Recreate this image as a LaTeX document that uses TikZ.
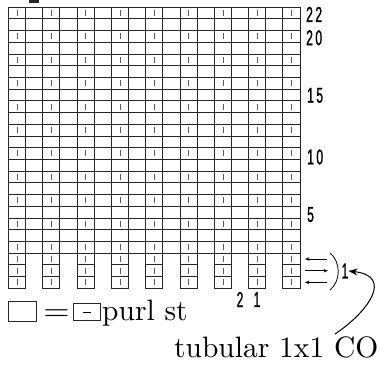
\documentclass[tikz,border=0pt]{standalone}
\usepackage{fontspec}
\newfontfamily\numfont[FakeStretch=0.56,FakeBold=1.2]{Liberation Sans}
\newfontfamily\lmten{lmroman10-regular.otf}
\usetikzlibrary{arrows.meta,calc}
\begin{document}
\begin{tikzpicture}[x=1pt,y=-1pt,
  gl/.style={line width=0.75pt, black!85},
  mk/.style={line width=0.6pt, black!65},
  num/.style={font=\numfont\fontsize{21.5}{20}\selectfont, inner sep=0pt},
  big/.style={font=\lmten\fontsize{29.5}{30}\selectfont, inner sep=0pt},
  arr/.style={line width=0.7pt, -{Stealth[length=4.5pt,width=3.5pt]}}]
\useasboundingbox (0,0) rectangle (380,366);
% small dark bar at the top edge
\fill[black!85] (29,0) rectangle (38.5,3);
% main grid: 17 columns, 21 rows (rows 2..22)
\foreach \k in {0,...,17}{
  \draw[gl] ({8.3+\k*17.16},7) -- ({8.3+\k*17.16},253.1);
}
\foreach \j in {0,...,21}{
  \draw[gl] (8.3,{7+\j*11.72}) -- (300,{7+\j*11.72});
}
% tubular rows (row 1): odd columns only
\foreach \c in {1,3,...,17}{
  \pgfmathsetmacro\xl{8.3+(\c-1)*17.16}
  \pgfmathsetmacro\xr{\xl+17.16}
  \pgfmathsetmacro\xm{\xl+8.58}
  \draw[gl] (\xl,253.1) -- (\xl,288.3) -- (\xr,288.3) -- (\xr,253.1);
  \draw[gl] (\xl,264.82) -- (\xr,264.82);
  \draw[gl] (\xl,276.54) -- (\xr,276.54);
  \foreach \t in {0,1,2}{
    \draw[mk] (\xm,{253.1+(\t+0.5)*11.72-3}) -- (\xm,{253.1+(\t+0.5)*11.72+3});
  }
  % marks in even rows of main grid
  \foreach \i in {0,2,...,20}{
    \draw[mk] (\xm,{7+(\i+0.5)*11.72-3}) -- (\xm,{7+(\i+0.5)*11.72+3});
  }
}
% row numbers
\node[num, anchor=west] (n22) at (306,14.4) {2\kern2.5pt2};
\node[num, anchor=west] (n20) at (306,37.8) {2\kern2.5pt0};
\node[num, anchor=west] (n15) at (307,95.4) {1\kern2.5pt5};
\node[num, anchor=west] (n10) at (307,157) {1\kern2.5pt0};
\node[num, anchor=west] (n5) at (307,214.6) {5};
\node[num] (one) at (345,271) {1};
% column numbers
\node[num] (c2) at (240,299.5) {2};
\node[num] (c1) at (257,299.5) {1};
% direction arrows for tubular cast-on
\coordinate (a1l) at (305,259);
\coordinate (a1r) at (327,259);
\coordinate (a2l) at (305,270.7);
\coordinate (a2r) at (328,270.7);
\coordinate (a3l) at (305,282.4);
\coordinate (a3r) at (327,282.4);
\draw[arr] (a1r) -- (a1l);
\draw[arr] (a2l) -- (a2r);
\draw[arr] (a3r) -- (a3l);
\coordinate (bt) at (330,253);
\coordinate (bb) at (330,290);
\draw[line width=0.8pt] (bt) .. controls (341,262) and (341,281) .. (bb);
% legend
\node[draw, line width=0.75pt, black!85, minimum width=28.4pt, minimum height=20pt, inner sep=0pt] (lb1) at (22.5,311.7) {};
\node[big, anchor=base, xscale=1.15] (eq) at (56.5,320) {=};
\node[draw, line width=0.75pt, black!85, minimum width=26.7pt, minimum height=17pt, inner sep=0pt] (lb2) at (86.7,311.7) {};
\draw[line width=0.75pt] ($(lb2.center)+(-4,0.5)$) -- ($(lb2.center)+(4,0.5)$);
\node[big, anchor=base west] (purl) at (102,320) {purl st};
% caption with curved arrow
\node[big, anchor=base west] (tub) at (174,357) {tubular 1x1 CO};
\coordinate (cs) at (335,334);
\draw[line width=1pt, -{Stealth[length=9pt,width=7pt]}] (cs) .. controls (368,312) and (394,276) .. (one.east);
\end{tikzpicture}
\end{document}
